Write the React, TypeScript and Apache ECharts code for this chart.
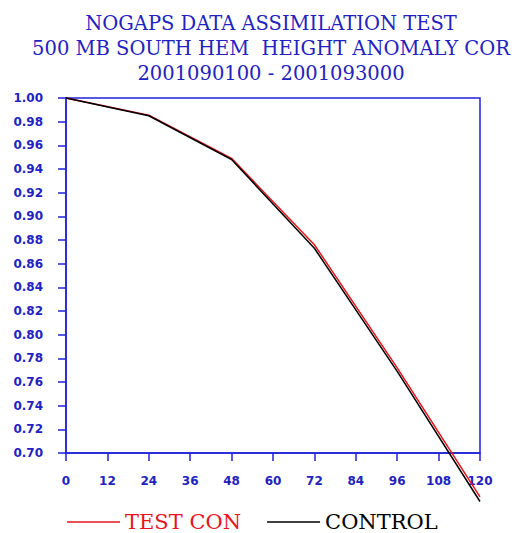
import React, { useEffect, useRef } from "react";
import * as echarts from "echarts";

const titleLines = [
  "NOGAPS DATA ASSIMILATION TEST",
  "500 MB SOUTH HEM  HEIGHT ANOMALY COR",
  "2001090100 - 2001093000",
];
const hours = [0, 24, 48, 72, 96, 120];
const testCon = [1.0, 0.9855, 0.949, 0.876, 0.772, 0.663];
const control = [1.0, 0.985, 0.948, 0.873, 0.769, 0.659];
const seriesNames = ["TEST CON", "CONTROL"];

const BLUE = "#2020d8";
const TXT_BLUE = "#2222c0";

export default function App() {
  const ref = useRef<HTMLDivElement>(null);
  useEffect(() => {
    if (!ref.current) return;
    const chart = echarts.init(ref.current, null, { renderer: "svg" });
    chart.setOption({
      animation: false,
      backgroundColor: "#fff",
      title: {
        text: titleLines.join("\n"),
        left: 266,
        top: 6,
        textAlign: "center",
        textStyle: {
          fontFamily: "DejaVu Serif",
          fontWeight: "normal",
          fontSize: 19.5,
          lineHeight: 25,
          color: TXT_BLUE,
        },
      },
      legend: {
        left: 62,
        top: 506,
        icon: "rect",
        itemWidth: 53,
        itemHeight: 1.6,
        itemGap: 26,
        textStyle: { fontFamily: "DejaVu Serif", fontSize: 21, lineHeight: 22 },
        data: [
          { name: seriesNames[0], itemStyle: { color: "#e8141c" }, textStyle: { color: "#e8141c" } },
          { name: seriesNames[1], itemStyle: { color: "#000" }, textStyle: { color: "#000" } },
        ],
      },
      grid: {
        left: 66,
        right: 36,
        top: 98,
        bottom: 80,
        show: true,
        borderColor: BLUE,
        borderWidth: 1.5,
        containLabel: false,
      },
      xAxis: {
        type: "value",
        min: 0,
        max: 120,
        interval: 12,
        axisLine: { lineStyle: { color: BLUE, width: 1.5 } },
        axisTick: { show: true, length: 8, lineStyle: { color: BLUE, width: 1.5 } },
        splitLine: { show: false },
        axisLabel: {
          margin: 22,
          color: TXT_BLUE,
          fontFamily: "DejaVu Sans",
          fontWeight: "bold",
          fontSize: 12,
        },
      },
      yAxis: {
        type: "value",
        min: 0.7,
        max: 1.0,
        interval: 0.02,
        axisLine: { show: true, lineStyle: { color: BLUE, width: 1.5 } },
        axisTick: { show: true, length: 8, lineStyle: { color: BLUE, width: 1.5 } },
        splitLine: { show: false },
        axisLabel: {
          margin: 23,
          color: TXT_BLUE,
          fontFamily: "DejaVu Sans",
          fontWeight: "bold",
          fontSize: 12,
          formatter: (v: number) => v.toFixed(2),
        },
      },
      series: [
        {
          name: seriesNames[0],
          type: "line",
          data: hours.map((h, i) => [h, testCon[i]]),
          symbol: "none",
          clip: false,
          lineStyle: { color: "#e8141c", width: 1.5 },
          itemStyle: { color: "#e8141c" },
        },
        {
          name: seriesNames[1],
          type: "line",
          data: hours.map((h, i) => [h, control[i]]),
          symbol: "none",
          clip: false,
          lineStyle: { color: "#000", width: 1.5 },
          itemStyle: { color: "#000" },
        },
      ],
    });
    return () => chart.dispose();
  }, []);
  return (
    <div
      ref={ref}
      style={{ position: "absolute", left: 0, top: 0, width: 516, height: 533 }}
    />
  );
}
